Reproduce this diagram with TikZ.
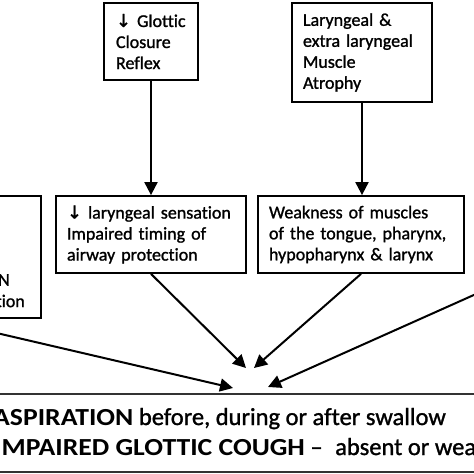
\documentclass[tikz,border=0pt]{standalone}
\usepackage{fontspec}
\setmainfont{Carlito}[Ligatures={TeX,NoCommon}, UprightFeatures={FakeBold=1.2}, BoldFeatures={FakeStretch=1.13}]
\newfontfamily\symfont{DejaVu Sans}[FakeBold=1]
\usetikzlibrary{arrows.meta}
\newcommand{\darr}{{\symfont\char"2193}}
\begin{document}
\begin{tikzpicture}[x=1pt,y=-1pt,
  box/.style={draw=black, line width=1.8pt, align=left, inner xsep=11pt, inner ysep=0pt,
    font=\fontsize{18}{21}\selectfont},
  arr/.style={line width=2pt, -{Triangle[length=13pt,width=13pt]}},
  frag/.style={inner sep=0pt, font=\fontsize{18}{21}\selectfont},
  big/.style={inner sep=0pt, anchor=base west, font=\fontsize{24.5}{30}\selectfont}
]
\useasboundingbox (0,0) rectangle (474,474);
\fill[white] (0,0) rectangle (474,474);
\clip (0,0) rectangle (474,474);
% top boxes
\node[box, inner xsep=12pt, minimum width=94pt, minimum height=77pt, text width=70pt] (glot) at (151,41.5) {\darr{} Glottic\\Closure\\Reflex};
\node[box, minimum width=140pt, minimum height=99pt, text width=118pt] (musc) at (362,52.5) {Laryngeal \&\\extra laryngeal\\Muscle\\Atrophy};
% middle boxes
\node[box, minimum width=190pt, minimum height=77pt, text width=168pt] (sens) at (151,234.5) {\darr{} laryngeal sensation\\Impaired timing of\\airway protection};
\node[box, minimum width=206pt, minimum height=77pt, text width=184pt] (weak) at (361,234.5) {Weakness of muscles\\of the tongue, pharynx,\\hypopharynx \& larynx};
% left box (partly outside the picture)
\node[draw=black, line width=1.8pt, minimum width=210pt, minimum height=122pt, inner sep=0pt] (left) at (-64,257) {};
\node[frag, anchor=east] (leftN) at (10,280) {N};
\node[frag, anchor=east] (leftC) at (25,301) {ction};
% source of the right arrow, outside the picture
\coordinate (rsrc) at (523,273);
% bottom box
\node[draw=black!80, line width=1.8pt, minimum width=500pt, minimum height=78pt, inner sep=0pt] (asp) at (237,433) {};
\node[big] (aspA) at (-7,425) {\textbf{ASPIRATION} before, during or after swallow};
\node[big] (aspB) at (-6,455) {\textbf{IMPAIRED GLOTTIC COUGH} --\hspace{7pt} absent or weak};
% arrow tips
\coordinate (tA) at (246,368);
\coordinate (tB) at (254,368);
\coordinate (tL) at (233,388);
\coordinate (tR) at (268,387);
% connectors
\draw[arr] (glot.south) -- (sens.north);
\draw[arr] (musc.south) -- (musc.south |- weak.north);
\draw[arr] (sens.south) -- (tA);
\draw[arr] (weak.south) -- (tB);
\draw[arr] (left.south) -- (tL);
\draw[arr] (rsrc) -- (tR);
\end{tikzpicture}
\end{document}
